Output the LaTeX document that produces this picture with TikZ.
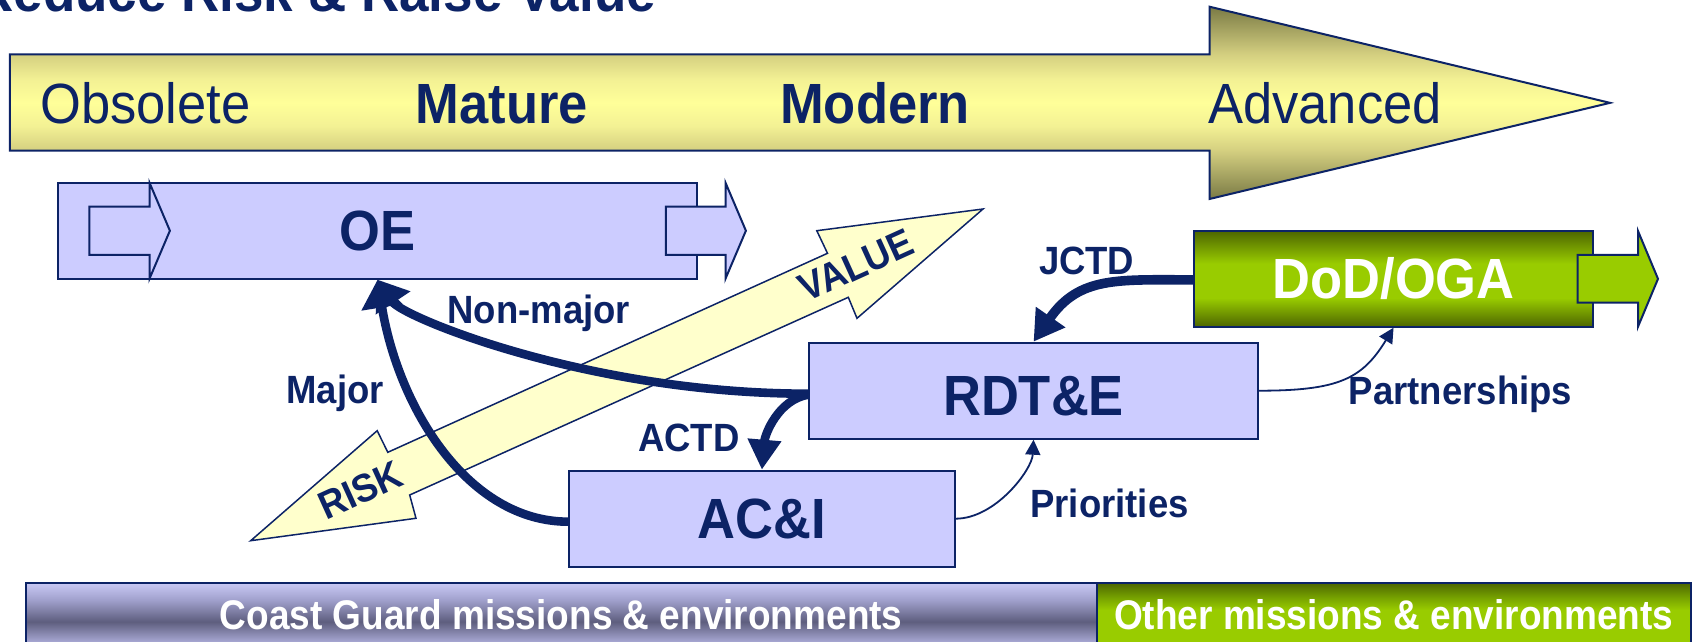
\documentclass[tikz,border=0pt]{standalone}
\usepackage{fontspec}
\usepackage{graphicx}
\setmainfont{Liberation Sans}
\usetikzlibrary{arrows.meta}
\definecolor{navy}{RGB}{12,35,102}
\definecolor{lav}{HTML}{CCCCFF}
\definecolor{paley}{HTML}{FFFFCC}
\definecolor{grn}{HTML}{99CC00}
\definecolor{olv}{HTML}{4D6600}
\definecolor{grnmid}{HTML}{75A000}
\definecolor{yD}{HTML}{7A7A45}
\definecolor{yM}{HTML}{D4CF80}
\definecolor{yL}{HTML}{F3F194}
\definecolor{yC}{HTML}{FFFF99}
\definecolor{cgT}{HTML}{CACAF6}
\definecolor{cgC}{HTML}{A0A0CC}
\definecolor{cgD}{HTML}{5E5E7E}
\definecolor{cgB}{HTML}{A8A8D4}
\pgfdeclareverticalshading{bigarrowsh}{100bp}{color(0bp)=(yD); color(25bp)=(yD); color(37.6bp)=(yM); color(44bp)=(yL); color(50bp)=(yC); color(56bp)=(yL); color(62.6bp)=(yM); color(75bp)=(yD); color(100bp)=(yD)}
\pgfdeclareverticalshading{dodsh}{100bp}{color(0bp)=(olv); color(25bp)=(olv); color(40bp)=(grn); color(58bp)=(grn); color(75bp)=(olv); color(100bp)=(olv)}
\pgfdeclareverticalshading{cgsh}{100bp}{color(0bp)=(cgB); color(29bp)=(cgB); color(44.8bp)=(cgD); color(61.6bp)=(cgC); color(75bp)=(cgT); color(100bp)=(cgT)}
\pgfdeclareverticalshading{othsh}{100bp}{color(0bp)=(grn); color(53.9bp)=(grn); color(64bp)=(grnmid); color(75bp)=(olv); color(100bp)=(olv)}
\newcommand\fBig{\fontsize{26.25}{30}\selectfont\bfseries}
\newcommand\fReg{\fontsize{26.25}{30}\selectfont}
\newcommand\fLab{\fontsize{18.25}{21}\selectfont\bfseries}
\newcommand\fBar{\fontsize{18.5}{21}\selectfont\bfseries}
\newcommand\tallt[1]{\scalebox{1}[1.08]{#1}}
\newcommand\tallb[1]{\scalebox{1}[1.12]{#1}}
\begin{document}
\begin{tikzpicture}[x=0.5pt,y=-0.5pt,
  box/.style={draw=navy, line width=1pt, fill=lav, inner sep=0pt, text=navy, font=\fBig},
  lab/.style={text=navy, font=\fLab, inner sep=0pt, anchor=base},
  heavy/.style={draw=navy, line width=4.3pt, -{Triangle[length=14pt,width=20pt]}},
  thinarr/.style={draw=navy, line width=0.9pt, -{Triangle[length=7.5pt,width=7.5pt]}},
  deco/.style={draw=navy, line width=1pt, fill=lav},
  stage/.style={text=navy, inner sep=0pt, anchor=base},
  bar/.style={shade, draw=navy, line width=1pt, inner sep=0pt, text=white, font=\fBar},
]
\useasboundingbox (0,0) rectangle (1694,642);
\clip (0,0) rectangle (1694,642);

% title (cut off at the top)
\node[anchor=base west, inner sep=0pt, text=navy, font=\fontsize{26.5}{30}\selectfont\bfseries] (title) at (-25,12) {\tallt{Reduce Risk \& Raise Value}};

% big maturity arrow
\shadedraw[shading=bigarrowsh, draw=navy, line width=1pt]
  (9.8,54.3) -- (1209.5,54.3) -- (1209.5,6.7) -- (1610,102.85) -- (1209.5,199) -- (1209.5,150.7) -- (9.8,150.7) -- cycle;
\node[stage, font=\fReg] (obs) at (145.5,123.3) {\tallt{Obsolete}};
\node[stage, font=\fBig] (mat) at (502,123.3) {\tallt{Mature}};
\node[stage, font=\fBig] (mod) at (875,123.3) {\tallt{Modern}};
\node[stage, font=\fReg] (adv) at (1325,123.3) {\tallt{Advanced}};

% RISK / VALUE double arrow
\filldraw[fill=paley, draw=navy, line width=0.75pt]
  (983,209) -- (857,318.3) -- (848.3,297.3) -- (409.7,495) -- (416,518.3) -- (250.7,540.7)
  -- (377.2,430.7) -- (387.8,452.3) -- (827.5,253.3) -- (816.8,230.7) -- cycle;
\node[text=navy, font=\fLab, inner sep=0pt, rotate=24.4] (value) at (856.3,265.7) {\tallt{VALUE}};
\node[text=navy, font=\fLab, inner sep=0pt, rotate=24.4] (risk) at (360.6,489.9) {\tallt{RISK}};

% boxes
\node[box, minimum width=319.85pt, minimum height=48pt] (oe) at (377.55,230.7) {\tallt{OE}};
\filldraw[deco] (89.3,206.7) -- (149.5,206.7) -- (149.5,182.7) -- (169.9,230.7) -- (149.5,278.7) -- (149.5,255) -- (89.3,255) -- cycle;
\filldraw[deco] (665.8,206.7) -- (725.5,206.7) -- (725.5,182.7) -- (745.9,230.7) -- (725.5,278.7) -- (725.5,255) -- (665.8,255) -- cycle;

\node[box, minimum width=224.45pt, minimum height=48pt, text height=25pt, text depth=0pt] (rdte) at (1033.55,390.7) {\tallt{RDT\&E}};
\node[box, minimum width=192.6pt, minimum height=48pt] (aci) at (761.9,518.7) {\tallt{AC\&I}};
\node[box, shade, shading=dodsh, text=white, minimum width=199.65pt, minimum height=47.85pt] (dod) at (1393.55,278.85) {\tallt{DoD/OGA}};
\filldraw[draw=navy, line width=1pt, fill=grn] (1577.5,255) -- (1638,255) -- (1638,231) -- (1658,278.85) -- (1638,326.7) -- (1638,302.5) -- (1577.5,302.5) -- cycle;

% bottom bars
\node[bar, shading=cgsh, minimum width=535.35pt, minimum height=32.3pt] (cg) at (561.25,615) {\tallb{Coast Guard missions \& environments}};
\node[bar, shading=othsh, minimum width=297.1pt, minimum height=32.3pt] (oth) at (1393.7,615) {\tallb{Other missions \& environments}};

% connectors
\draw[heavy] ([yshift=-1.5pt]rdte.west) .. controls +(-220,0) and +(25,37.4) .. (oe.south);
\draw[heavy] ([yshift=-1.5pt]aci.west) .. controls +(-100,0) and +(20.8,128.7) .. (oe.south);
\draw[heavy, -{Triangle[length=15pt,width=16pt]}] ([yshift=-2pt]rdte.west) .. controls +(-30,5) and +(3,-35) .. (aci.north);
\draw[heavy, line width=4.8pt, -{Triangle[length=15pt,width=17pt]}] ([yshift=-0.5pt]dod.west) .. controls +(-75,0) and +(45.6,-65.6) .. (rdte.north);
\draw[thinarr] (rdte.east) .. controls +(80,0) and +(-31.2,51) .. (dod.south);
\draw[thinarr] (aci.east) .. controls +(40,0) and +(-1.5,30) .. (rdte.south);

% connector labels
\node[lab] (lnon) at (538.8,323.3) {\tallt{Non-major}};
\node[lab] (lmaj) at (335,403.3) {\tallt{Major}};
\node[lab] (lactd) at (688.9,451.7) {\tallt{ACTD}};
\node[lab] (ljctd) at (1086.7,274) {\tallt{JCTD}};
\node[lab] (lpart) at (1460.5,404) {\tallt{Partnerships}};
\node[lab] (lprio) at (1109.5,517.3) {\tallt{Priorities}};
\end{tikzpicture}
\end{document}
